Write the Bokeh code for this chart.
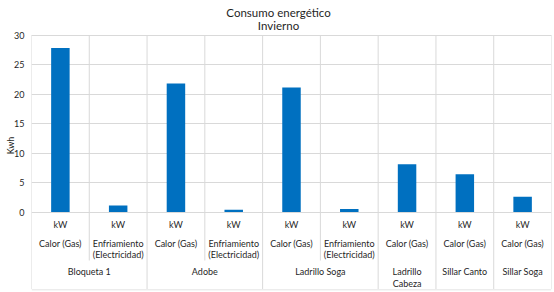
from bokeh.plotting import figure
from bokeh.models import Range1d, FixedTicker, ColumnDataSource
from bokeh.core.properties import value
from bokeh.embed import file_html
from bokeh.resources import INLINE

# ---------------- data ----------------
titulo = "Consumo energético"
subtitulo = "Invierno"
eje_y = "Kwh"
materiales = ["Bloqueta 1", "Bloqueta 1", "Adobe", "Adobe", "Ladrillo Soga",
              "Ladrillo Soga", "Ladrillo\nCabeza", "Sillar Canto", "Sillar Soga"]
fuentes = ["Calor (Gas)", "Enfriamiento\n(Electricidad)", "Calor (Gas)",
           "Enfriamiento\n(Electricidad)", "Calor (Gas)",
           "Enfriamiento\n(Electricidad)", "Calor (Gas)", "Calor (Gas)", "Calor (Gas)"]
unidades = ["kW", "kW", "kW", "kW", "kW", "kW", "kW", "kW", "kW"]
consumo = [27.8, 1.1, 21.8, 0.4, 21.1, 0.5, 8.1, 6.4, 2.6]
y_ticks = [0, 5, 10, 15, 20, 25, 30]

# ---------------- layout ----------------
W, H = 554, 292
FRAME_B = 290
ZERO_PX = 211.5
TOP_PX = 34.5
YMAX = 30
ppu = (ZERO_PX - TOP_PX) / YMAX
y_start = -(FRAME_B - ZERO_PX) / ppu
y_end = YMAX + TOP_PX / ppu


def below(px):
    return -px / ppu


FONT = value("Lato")
TXT = "#1f1f1f"
GRID = "#d9d9d9"
BAR = "#0070C0"

n = len(consumo)
xs = [i + 0.5 for i in range(n)]

p = figure(width=W, height=H, x_range=Range1d(0, n), y_range=Range1d(y_start, y_end),
           output_backend="svg", toolbar_location=None, x_axis_location=None,
           min_border_left=31, min_border_right=3, min_border_top=0, min_border_bottom=2,
           outline_line_color=None, background_fill_color="white",
           border_fill_color="white")

p.xgrid.visible = False
p.ygrid.ticker = FixedTicker(ticks=y_ticks)
p.ygrid.grid_line_color = GRID
p.ygrid.grid_line_width = 1

ax = p.yaxis[0]
ax.ticker = FixedTicker(ticks=y_ticks)
ax.bounds = (0, YMAX)
ax.axis_label = eje_y
ax.axis_line_color = None
ax.major_tick_line_color = None
ax.minor_tick_line_color = None
ax.major_tick_out = 0
ax.major_tick_in = 0
ax.minor_tick_out = 0
ax.minor_tick_in = 0
ax.major_label_standoff = 7
ax.axis_label_standoff = -5
ax.major_label_text_font = "Lato"
ax.major_label_text_font_size = "9px"
ax.major_label_text_color = TXT
ax.axis_label_text_font = "Lato"
ax.axis_label_text_font_size = "9px"
ax.axis_label_text_font_style = "normal"
ax.axis_label_text_color = TXT

# separators (gridlines in plot + lines through the label area)
sx, sy1 = [], []
for b in range(n + 1):
    is_group = b == 0 or b == n or materiales[b - 1] != materiales[b]
    sx.append(b)
    sy1.append(below(77) if is_group else below(48.5))
p.segment(x0=sx, y0=[YMAX] * len(sx), x1=sx, y1=sy1, line_color=GRID, line_width=1)
# bottom border
p.segment(x0=[0], y0=[below(78)], x1=[n], y1=[below(78)], line_color=GRID, line_width=1)

# bars
p.vbar(x=xs, top=consumo, bottom=0, width=0.32, fill_color=BAR, line_color=None)


def draw_labels(xvals, labels, first_px, line_px, size="9px"):
    tx, ty, tt, to = [], [], [], []
    for x, lab in zip(xvals, labels):
        for k, line in enumerate(lab.split("\n")):
            tx.append(x)
            ty.append(0)
            tt.append(line)
            to.append(first_px + k * line_px)
    src = ColumnDataSource(dict(x=tx, y=ty, text=tt, off=to))
    p.text(x="x", y="y", text="text", y_offset="off", source=src,
           text_align="center", text_baseline="middle", text_font=FONT,
           text_font_size=size, text_color=TXT)


draw_labels(xs, unidades, 12.8, 10.6)
draw_labels(xs, fuentes, 31.4, 10.6)

# group labels: one per run of equal materials
gx, gl = [], []
i = 0
while i < n:
    j = i
    while j + 1 < n and materiales[j + 1] == materiales[i]:
        j += 1
    gx.append((i + j + 1) / 2)
    gl.append(materiales[i])
    i = j + 1
draw_labels(gx, gl, 59.5, 11.5)

# titles
p.text(x=[n / 2, n / 2], y=[YMAX, YMAX], text=[titulo, subtitulo],
       y_offset=[-23, -9.5], x_offset=-13, text_align="center",
       text_baseline="middle", text_font=FONT, text_font_size="11.5px",
       text_color=TXT)

open("out.html", "w").write(file_html(p, INLINE))
